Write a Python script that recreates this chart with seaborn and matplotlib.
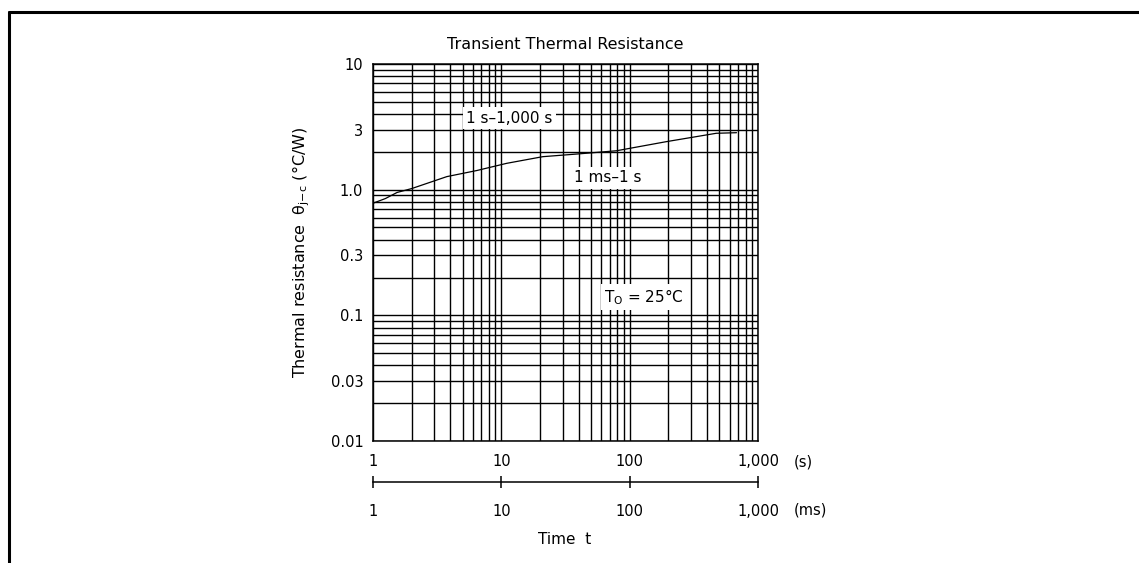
import numpy as np
import pandas as pd
import matplotlib
matplotlib.use('Agg')
import matplotlib.pyplot as plt
import matplotlib.ticker as mticker
from matplotlib.lines import Line2D
import seaborn as sns

# values
time_s = [1, 1.25, 1.54, 2.0, 3.76, 6.44, 11, 21, 38.5, 79, 193, 473, 680]
resistance = [0.78, 0.85, 0.95, 1.02, 1.27, 1.42, 1.62, 1.83, 1.92, 2.04, 2.41, 2.81, 2.84]
y_ticks = [0.01, 0.03, 0.1, 0.3, 1.0, 3, 10]
y_tick_labels = ['0.01', '0.03', '0.1', '0.3', '1.0', '3', '10']
x_ticks = [1, 10, 100, 1000]
x_tick_labels = ['1', '10', '100', '1,000']

sns.set_theme(style='white')
plt.rcParams['font.family'] = ['DejaVu Sans']
plt.rcParams['mathtext.fontset'] = 'dejavusans'
plt.rcParams['text.color'] = 'black'

W, H = 1139, 563
df = pd.DataFrame({'t': time_s, 'r': resistance})

fig = plt.figure(figsize=(W / 100, H / 100), dpi=100)
ax = fig.add_axes([373 / W, 1 - 441 / H, 385 / W, 377 / H])

sns.lineplot(data=df, x='t', y='r', ax=ax, color='black', lw=0.9, zorder=3)
ax.set_xscale('log')
ax.set_yscale('log')
ax.set_xlim(1, 1000)
ax.set_ylim(0.01, 10)

ax.xaxis.set_major_locator(mticker.FixedLocator(x_ticks))
ax.xaxis.set_minor_locator(mticker.LogLocator(base=10, subs=np.arange(2, 10)))
ax.yaxis.set_major_locator(mticker.FixedLocator(y_ticks))
ax.yaxis.set_minor_locator(mticker.LogLocator(base=10, subs=np.arange(1, 10)))
ax.set_xticklabels(x_tick_labels)
ax.set_yticklabels(y_tick_labels)
ax.xaxis.set_minor_formatter(mticker.NullFormatter())
ax.yaxis.set_minor_formatter(mticker.NullFormatter())
ax.tick_params(which='both', length=0, labelsize=10.5, colors='black')
ax.tick_params(axis='x', pad=9)
ax.tick_params(axis='y', pad=7)

ax.grid(which='both', color='black', lw=1.0)
ax.set_axisbelow(True)
for sp in ax.spines.values():
    sp.set_color('black')
    sp.set_linewidth(1.1)

ax.set_xlabel('')
ax.set_ylabel(r'Thermal resistance  θ$_{\rm j{-}c}$ (°C/W)', fontsize=11.5, color='black')
ax.yaxis.set_label_coords(-0.158, 0.5)
ax.set_title('Transient Thermal Resistance', fontsize=11.5, color='black', pad=11)

box = dict(facecolor='white', edgecolor='none', pad=2.5)
ax.text(11.6, 3.7, '1 s–1,000 s', ha='center', va='center', fontsize=11, bbox=box, zorder=4)
ax.text(67, 1.24, '1 ms–1 s', ha='center', va='center', fontsize=11, bbox=box, zorder=4)
ax.text(130, 0.14, r'T$_{\rm O}$ = 25°C', ha='center', va='center', fontsize=11, bbox=box, zorder=4)

# second time scale in ms
ax2 = fig.add_axes([373 / W, 1 - 482 / H, 385 / W, 0.001])
ax2.set_xscale('log')
ax2.set_xlim(1, 1000)
ax2.set_yticks([])
for name in ['top', 'left', 'right']:
    ax2.spines[name].set_visible(False)
ax2.spines['bottom'].set_color('black')
ax2.spines['bottom'].set_linewidth(1.1)
ax2.set_facecolor('none')
ax2.xaxis.set_major_locator(mticker.FixedLocator(x_ticks))
ax2.xaxis.set_minor_locator(mticker.NullLocator())
ax2.set_xticklabels(x_tick_labels)
ax2.tick_params(axis='x', bottom=True, direction='inout', length=9, width=1.1, colors='black',
                labelsize=10.5, pad=11)

fig.text(794 / W, 1 - 462 / H, '(s)', ha='left', va='center', fontsize=10.5)
fig.text(794 / W, 1 - 510 / H, '(ms)', ha='left', va='center', fontsize=10.5)
fig.text(565 / W, 1 - 540 / H, 'Time  t', ha='center', va='center', fontsize=11)

# outer frame lines
fig.add_artist(Line2D([9 / W, 1], [1 - 12 / H, 1 - 12 / H], transform=fig.transFigure,
                      color='black', lw=2.2))
fig.add_artist(Line2D([9 / W, 9 / W], [0, 1 - 12 / H], transform=fig.transFigure,
                      color='black', lw=2.2))

plt.savefig('out.png', dpi=100)
plt.close()
